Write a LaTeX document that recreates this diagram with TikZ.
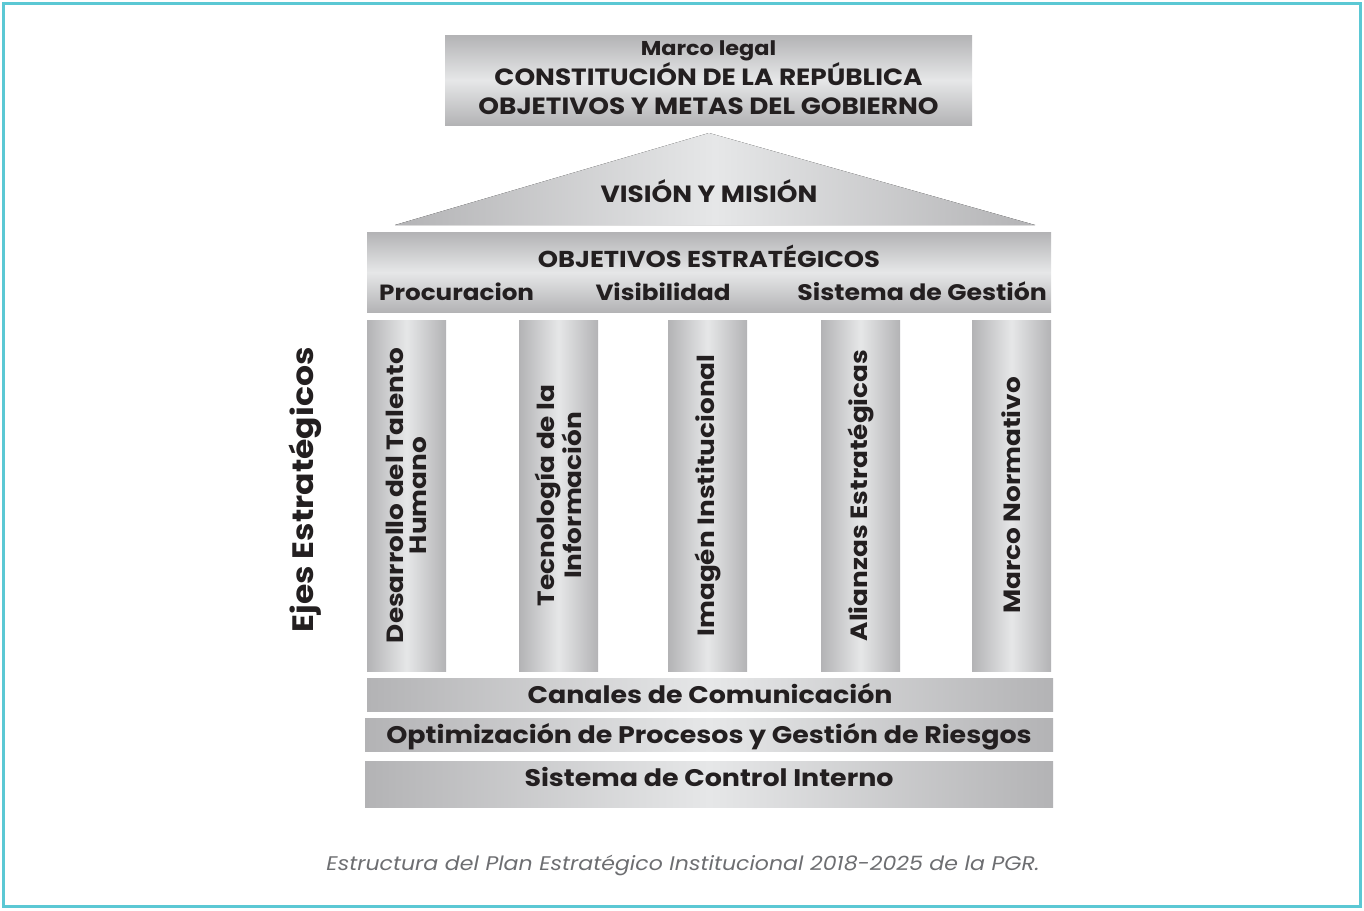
\documentclass[tikz,border=0pt]{standalone}
\usepackage{fontspec}
\setmainfont{Poppins}[FakeStretch=1.12]
\usetikzlibrary{positioning}
\definecolor{framecyan}{HTML}{5BC8D4}
\definecolor{gedge}{HTML}{B3B3B5}
\definecolor{gmid}{HTML}{E6E7E8}
\definecolor{inkdark}{HTML}{231F20}
\definecolor{capgray}{HTML}{6D6E71}

\begin{document}
\begin{tikzpicture}[x=1pt, y=-1pt]
  \tikzset{
    vband/.style={rectangle, inner sep=0pt, anchor=north west,
                  top color=gedge, bottom color=gedge, middle color=gmid},
    hband/.style={rectangle, inner sep=0pt, anchor=north west,
                  left color=gedge, right color=gedge, middle color=gmid},
    pillar/.style={rectangle, inner sep=0pt, rotate=90, align=center,
                   minimum width=351pt, minimum height=79pt,
                   left color=gedge, right color=gedge, middle color=gmid,
                   text=inkdark, font=\bfseries\fontsize{23.5}{23}\selectfont},
    htext/.style={anchor=base, inner sep=0pt, text=inkdark,
                  font=\bfseries\fontsize{24}{26}\selectfont},
    btext/.style={htext, font=\bfseries\fontsize{23.5}{26}\selectfont}
  }
  \useasboundingbox (0,0) rectangle (1364,910);
  % frame
  \draw[line width=3pt, framecyan] (3.5,3.5) rectangle (1360.5,906.5);
  % Marco legal
  \node[vband, minimum width=527pt, minimum height=90pt] (marco) at (445,35) {};
  \node[htext, font=\bfseries\fontsize{20}{22}\selectfont] (marcot) at (708.5,55) {Marco legal};
  \node[btext] (const) at (708.5,85) {CONSTITUCIÓN DE LA REPÚBLICA};
  \node[btext] (metas) at (708.5,114) {OBJETIVOS Y METAS DEL GOBIERNO};
  % Roof
  \fill[left color=gedge, right color=gedge, middle color=gmid]
    (395,225) -- (709,133) -- (1035,225) -- cycle;
  \node[btext] (vision) at (709,202) {VISIÓN Y MISIÓN};
  % Objetivos
  \node[vband, minimum width=684pt, minimum height=80pt] (obj) at (367,232) {};
  \node[btext, font=\bfseries\fontsize{23}{26}\selectfont] (objt) at (709,267) {OBJETIVOS ESTRATÉGICOS};
  \node[btext, font=\bfseries\fontsize{22}{26}\selectfont, anchor=base west] (procu) at (379,300) {Procuracion};
  \node[btext, font=\bfseries\fontsize{22}{26}\selectfont] (visib) at (663,300) {Visibilidad};
  \node[btext, font=\bfseries\fontsize{22.5}{26}\selectfont, anchor=base east] (sist) at (1047,300) {Sistema de Gestión};
  % Pillars
  \node[pillar] (talento) at (406.5,495.5) {Desarrollo del Talento\\Humano};
  \node[pillar] (tecno)   at (558.5,495.5) {Tecnología de la\\Información};
  \node[pillar] (imagen)  at (707.5,495.5) {Imagén Institucional};
  \node[pillar] (alianza) at (860.5,495.5) {Alianzas Estratégicas};
  \node[pillar] (normat)  at (1011.5,495.5) {Marco Normativo};
  \node[rotate=90, inner sep=0pt, text=inkdark,
        font=\bfseries\fontsize{29.5}{30}\selectfont] (ejes) at (305,490) {Ejes Estratégicos};
  % Base bars
  \node[hband, minimum width=686pt, minimum height=33pt] (canal) at (367,678) {};
  \node[htext] (canalt) at (710,703) {Canales de Comunicación};
  \node[hband, minimum width=688pt, minimum height=33pt] (optim) at (365,718) {};
  \node[htext] (optimt) at (709,743) {Optimización de Procesos y Gestión de Riesgos};
  \node[hband, minimum width=688pt, minimum height=46pt] (contr) at (365,761) {};
  \node[htext] (contrt) at (709,786) {Sistema de Control Interno};
  % Caption
  \node[anchor=base, inner sep=0pt, text=capgray,
        font=\itshape\fontsize{19.7}{22}\selectfont] (caption) at (683,870)
    {Estructura del Plan Estratégico Institucional 2018-2025 de la PGR.};
\end{tikzpicture}
\end{document}
